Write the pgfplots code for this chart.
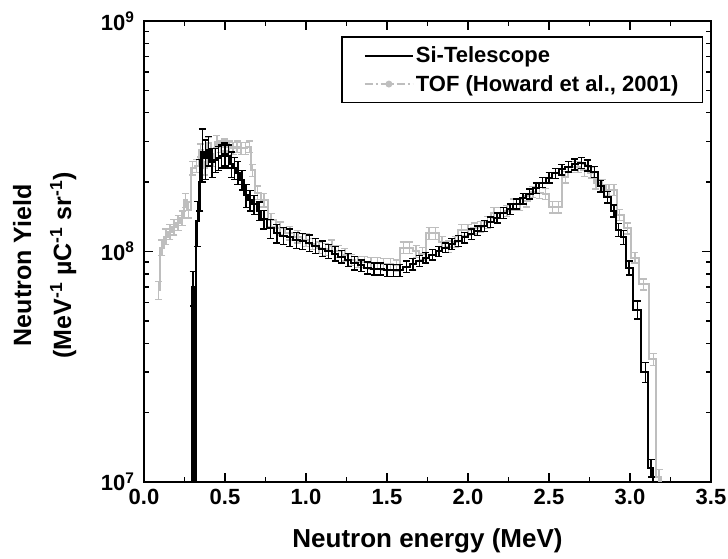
\documentclass[border=0pt]{standalone}
\usepackage{pgfplots}
\usepackage{pgfplotstable}
\pgfplotsset{compat=1.18}
\usepackage{fontspec}
\setmainfont{Liberation Sans}
\definecolor{tofgray}{RGB}{190,190,190}

\pgfplotstableread{
x y e
0.290 4e6 0
0.303 7.0e7 1.2e7
0.316 4e6 0
0.330 1.35e8 3e7
0.345 2.0e8 5e7
0.360 2.7e8 7e7
0.380 2.55e8 5e7
0.400 2.75e8 4e7
0.420 2.45e8 3.5e7
0.440 2.5e8 3e7
0.460 2.55e8 3e7
0.480 2.6e8 3e7
0.500 2.65e8 3e7
0.520 2.6e8 3e7
0.540 2.4e8 3e7
0.560 2.3e8 2.5e7
0.580 2.2e8 2.5e7
0.605 2.05e8 2e7
0.630 1.75e8 2e7
0.655 1.67e8 1.7e7
0.680 1.6e8 1.5e7
0.710 1.5e8 1.4e7
0.740 1.38e8 1.3e7
0.780 1.26e8 1.2e7
0.820 1.2e8 1.1e7
0.860 1.17e8 1e7
0.900 1.15e8 1e7
0.940 1.12e8 9e6
0.980 1.11e8 9e6
1.020 1.09e8 9e6
1.060 1.06e8 8e6
1.100 1.03e8 8e6
1.140 1.0e8 7e6
1.180 0.98e8 7e6
1.220 0.95e8 6e6
1.260 0.92e8 6e6
1.300 0.89e8 6e6
1.340 0.87e8 5e6
1.380 0.85e8 5e6
1.420 0.84e8 5e6
1.460 0.84e8 5e6
1.500 0.83e8 5e6
1.540 0.83e8 5e6
1.580 0.83e8 5e6
1.620 0.86e8 5e6
1.660 0.88e8 5e6
1.700 0.91e8 5e6
1.740 0.94e8 5e6
1.780 0.97e8 5e6
1.820 1.0e8 5e6
1.860 1.04e8 5e6
1.900 1.08e8 6e6
1.940 1.11e8 6e6
1.980 1.15e8 6e6
2.020 1.19e8 6e6
2.060 1.23e8 6e6
2.100 1.29e8 7e6
2.140 1.34e8 7e6
2.180 1.40e8 7e6
2.220 1.47e8 8e6
2.260 1.53e8 8e6
2.300 1.61e8 8e6
2.340 1.70e8 9e6
2.380 1.78e8 9e6
2.420 1.88e8 1e7
2.460 1.99e8 1e7
2.500 2.09e8 1.1e7
2.540 2.18e8 1.1e7
2.580 2.27e8 1.2e7
2.620 2.33e8 1.2e7
2.660 2.39e8 1.3e7
2.700 2.42e8 1.3e7
2.740 2.36e8 1.3e7
2.780 2.22e8 1.2e7
2.820 1.92e8 1.1e7
2.860 1.72e8 1e7
2.900 1.5e8 9e6
2.930 1.24e8 8e6
2.960 1.15e8 8e6
2.995 8.5e7 6e6
3.045 5.6e7 5e6
3.095 3.0e7 3e6
3.130 1.15e7 1e6
3.150 4e6 0
}\sitable

\pgfplotstableread{
x y e
0.090 6.8e7 6e6
0.110 1.04e8 8e6
0.135 1.16e8 9e6
0.160 1.22e8 9e6
0.185 1.28e8 1e7
0.210 1.33e8 1e7
0.235 1.40e8 1e7
0.255 1.67e8 1.2e7
0.275 1.52e8 1.2e7
0.300 2.3e8 1.5e7
0.325 2.35e8 1.5e7
0.350 2.75e8 1.8e7
0.375 2.3e8 1.5e7
0.400 2.95e8 1.8e7
0.425 2.5e8 1.6e7
0.450 3.0e8 1.8e7
0.475 2.85e8 1.7e7
0.500 2.9e8 1.7e7
0.525 2.85e8 1.7e7
0.550 2.8e8 1.7e7
0.575 2.85e8 1.7e7
0.600 2.8e8 1.7e7
0.625 2.8e8 1.7e7
0.650 2.85e8 1.7e7
0.670 2.25e8 1.4e7
0.700 1.8e8 1.2e7
0.740 1.67e8 1.1e7
0.785 1.37e8 9e6
0.840 1.26e8 8e6
0.900 1.2e8 8e6
0.950 1.16e8 7e6
1.000 1.12e8 7e6
1.040 1.08e8 6e6
1.080 1.04e8 6e6
1.120 1.02e8 6e6
1.160 1.06e8 6e6
1.200 1.0e8 6e6
1.240 0.97e8 6e6
1.280 0.92e8 5e6
1.320 0.90e8 5e6
1.360 0.90e8 5e6
1.400 0.89e8 5e6
1.440 0.89e8 5e6
1.480 0.88e8 5e6
1.520 0.88e8 5e6
1.560 0.87e8 5e6
1.600 1.04e8 6e6
1.640 1.04e8 6e6
1.680 1.0e8 6e6
1.720 0.98e8 6e6
1.760 1.2e8 7e6
1.800 1.2e8 7e6
1.840 1.1e8 6e6
1.880 1.05e8 6e6
1.920 1.1e8 6e6
1.960 1.24e8 7e6
2.000 1.24e8 7e6
2.040 1.26e8 7e6
2.080 1.28e8 7e6
2.120 1.34e8 8e6
2.160 1.47e8 8e6
2.200 1.47e8 8e6
2.240 1.5e8 8e6
2.280 1.6e8 9e6
2.320 1.6e8 9e6
2.360 1.65e8 9e6
2.400 1.81e8 1e7
2.440 1.80e8 1e7
2.480 1.78e8 1e7
2.520 1.56e8 9e6
2.560 1.56e8 9e6
2.600 2.1e8 1.2e7
2.640 2.33e8 1.3e7
2.680 2.33e8 1.3e7
2.720 2.25e8 1.3e7
2.760 2.2e8 1.2e7
2.790 1.98e8 1.1e7
2.830 1.94e8 1.1e7
2.870 1.85e8 1e7
2.900 1.85e8 1e7
2.935 1.44e8 8e6
2.985 1.26e8 7e6
3.030 9.4e7 5e6
3.085 7.2e7 4e6
3.145 3.4e7 2e6
3.180 1.05e7 8e5
3.200 4e6 0
}\toftable

\begin{document}
\begin{tikzpicture}
\path[use as bounding box] (-144pt,-76pt) rectangle (584pt,482pt);
\begin{axis}[
  scale only axis,
  width=567pt, height=461pt,
  xmin=0, xmax=3.5,
  ymode=log, ymin=1e7, ymax=1e9,
  xtick={0,0.5,1,1.5,2,2.5,3,3.5},
  xticklabels={0.0,0.5,1.0,1.5,2.0,2.5,3.0,3.5},
  minor x tick num=1,
  ytick={1e7,1e8,1e9},
  yticklabels={10\textsuperscript{7},10\textsuperscript{8},10\textsuperscript{9}},
  tick align=inside,
  major tick length=9pt, minor tick length=5pt,
  every tick/.style={line width=1.4pt, black},
  axis line style={line width=1.8pt},
  ticklabel style={font=\fontsize{22}{24}\selectfont\bfseries},
  xticklabel style={yshift=-4pt},
  yticklabel style={xshift=-6pt},
  xlabel={Neutron energy (MeV)},
  xlabel style={font=\fontsize{26}{30}\selectfont\bfseries, at={(axis description cs:0.5,-0.128)}, anchor=center},
  ylabel={Neutron Yield\\(MeV\textsuperscript{-1} µC\textsuperscript{-1} sr\textsuperscript{-1})},
  ylabel style={font=\fontsize{25}{40}\selectfont\bfseries, align=center, at={(axis description cs:-0.175,0.47)}, anchor=center},
  reverse legend,
  legend style={at={(0.986,0.967)}, anchor=north east, draw=black, line width=1.4pt,
    font=\fontsize{22}{24}\selectfont\bfseries, cells={anchor=west},
    inner xsep=22pt, inner ysep=8pt, row sep=7pt},
]
\addplot[tofgray, line width=2pt, const plot mark mid,
  error bars/.cd, y dir=both, y explicit, error mark=|,
  error bar style={line width=1.4pt, tofgray},
  error mark options={mark size=3.5pt, line width=1.4pt, tofgray},
  /pgfplots/legend image code/.code={%
    \draw[tofgray, line width=2pt, dash pattern=on 8pt off 3pt on 2pt off 3pt] (0pt,0pt) -- (48pt,0pt);
    \fill[tofgray] (24pt,0pt) circle (2.4pt);}]
  table[x=x, y=y, y error=e] {\toftable};
\addlegendentry{TOF (Howard et al., 2001)}
\addplot[black, line width=2pt, const plot mark mid,
  error bars/.cd, y dir=both, y explicit, error mark=|,
  error bar style={line width=1.4pt, black},
  error mark options={mark size=3.5pt, line width=1.4pt, black},
  /pgfplots/legend image code/.code={%
    \draw[black, line width=2pt] (0pt,0pt) -- (48pt,0pt);}]
  table[x=x, y=y, y error=e] {\sitable};
\addlegendentry{Si-Telescope}
\end{axis}
\end{tikzpicture}
\end{document}
